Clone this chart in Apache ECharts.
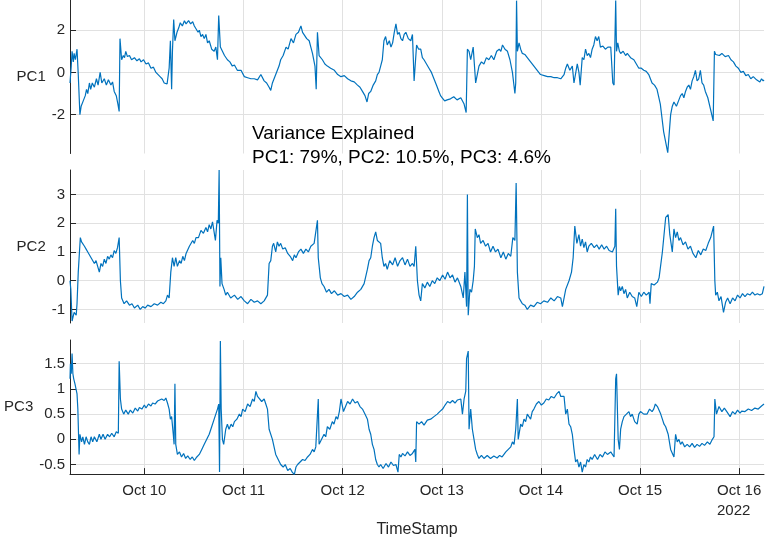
<!DOCTYPE html>
<html><head><meta charset="utf-8">
<script src="https://cdn.jsdelivr.net/npm/echarts@6/dist/echarts.min.js"></script>
<style>html,body{margin:0;padding:0;background:#fff}#c{width:774px;height:539px}</style>
</head><body><div id="c"></div>
<script>
// time = hours since Oct 9 2022 00:00
const xMin = 6, xMax = 174;
const dayTicks = [24, 48, 72, 96, 120, 144, 168];
const dayLabels = ['Oct 10', 'Oct 11', 'Oct 12', 'Oct 13', 'Oct 14', 'Oct 15', 'Oct 16'];
const yearLabel = '2022';
const xTitle = 'TimeStamp';
const annotationLines = ['Variance Explained', 'PC1: 79%, PC2: 10.5%, PC3: 4.6%'];

const pc1Ticks = [-2, 0, 2];
const pc1Range = [-3.84, 3.43];
const pc2Ticks = [-1, 0, 1, 2, 3];
const pc2Range = [-1.47, 3.85];
const pc3Ticks = [-0.5, 0, 0.5, 1, 1.5];
const pc3Range = [-0.69, 1.97];

// [hour, value]
const pc1Data = [[6.0,-0.5],[6.3,0.3],[6.5,1.0],[6.8,0.5],[7.0,0.9],[7.3,0.6],[7.7,1.1],[8.0,-0.1],[8.4,-2.0],[8.7,-1.6],[9.3,-1.3],[9.7,-1.1],[10.0,-0.8],[10.3,-1.0],[10.7,-0.5],[11.0,-0.8],[11.4,-0.5],[11.9,-0.7],[12.4,-0.3],[12.8,-0.6],[13.3,0.0],[13.7,-0.5],[14.3,-0.3],[14.8,-0.6],[15.3,-0.35],[15.9,-0.6],[16.3,-0.45],[16.7,-0.9],[17.2,-1.1],[17.6,-1.5],[17.9,-1.85],[18.1,1.6],[18.5,0.6],[18.9,0.8],[19.2,0.7],[19.5,1.0],[19.9,0.75],[20.4,0.8],[20.9,0.6],[21.6,0.7],[22.2,0.55],[22.8,0.65],[23.2,0.5],[23.8,0.6],[24.4,0.4],[25.0,0.45],[25.6,0.2],[26.2,0.25],[26.8,0.0],[27.2,0.0],[27.8,-0.2],[28.3,-0.3],[28.8,-0.5],[29.5,-0.55],[30.0,0.2],[30.3,1.5],[30.6,-0.8],[30.8,1.0],[31.1,2.5],[31.4,1.5],[31.9,1.9],[32.3,2.1],[32.7,2.35],[33.2,2.2],[33.7,2.45],[34.1,2.3],[34.7,2.45],[35.2,2.3],[35.7,2.4],[36.1,2.2],[36.5,2.25],[37.0,1.9],[37.3,2.0],[37.7,1.7],[38.1,1.8],[38.5,1.6],[38.9,1.8],[39.3,1.4],[39.7,1.5],[40.3,1.1],[40.9,1.0],[41.3,1.2],[41.7,0.6],[42.0,2.7],[42.4,1.2],[42.9,1.0],[43.4,0.8],[44.1,0.6],[44.7,0.5],[45.3,0.3],[45.8,0.35],[46.5,0.1],[47.4,0.1],[48.2,-0.2],[49.0,-0.25],[49.8,-0.3],[50.6,-0.3],[51.4,-0.35],[52.2,-0.1],[53.0,-0.4],[53.6,-0.5],[54.2,-0.7],[54.6,-0.85],[55.0,-0.5],[55.4,-0.3],[55.8,-0.1],[56.2,0.1],[56.6,0.3],[57.0,0.6],[57.6,0.8],[58.3,1.2],[58.8,1.1],[59.5,1.6],[60.1,1.4],[60.7,1.8],[61.3,1.9],[61.9,2.2],[62.3,1.9],[62.7,1.9],[63.3,1.6],[63.9,1.5],[64.3,1.2],[64.7,0.9],[65.3,0.3],[65.6,-0.8],[65.9,1.9],[66.3,0.8],[67.1,0.6],[67.7,0.4],[68.3,0.3],[69.1,0.2],[70.0,0.1],[70.8,-0.1],[71.6,-0.2],[72.4,-0.15],[73.2,-0.3],[74.0,-0.4],[74.8,-0.45],[75.6,-0.6],[76.2,-0.7],[76.8,-0.9],[77.4,-1.1],[77.9,-1.4],[78.3,-1.0],[78.8,-0.9],[79.4,-0.6],[80.0,-0.4],[80.4,-0.1],[80.8,0.0],[81.2,0.3],[81.6,0.6],[82.0,1.5],[82.4,1.7],[82.8,1.3],[83.3,1.5],[83.7,1.2],[84.1,1.4],[84.5,1.9],[84.9,2.3],[85.3,1.8],[85.7,1.9],[86.1,1.6],[86.5,1.5],[86.9,1.8],[87.3,1.9],[87.9,1.6],[88.5,1.5],[88.9,1.8],[89.3,-0.4],[89.9,1.3],[90.4,1.1],[90.9,1.1],[91.3,0.7],[91.7,0.6],[92.3,0.4],[92.9,0.2],[93.5,0.0],[94.1,-0.3],[94.7,-0.6],[95.3,-0.9],[95.7,-1.1],[96.1,-1.2],[96.7,-1.35],[97.3,-1.3],[98.1,-1.25],[98.9,-1.15],[99.7,-1.3],[100.6,-1.2],[101.4,-1.5],[101.9,-1.9],[102.2,1.1],[102.6,1.0],[103.0,0.6],[103.6,1.2],[104.2,-0.5],[105.0,0.3],[105.6,0.5],[106.2,0.4],[106.8,0.7],[107.4,0.6],[108.0,0.8],[108.6,0.6],[109.3,1.0],[109.9,1.1],[110.3,1.0],[110.7,1.3],[111.3,1.1],[111.9,1.0],[112.5,0.6],[113.1,0.0],[113.7,-1.0],[113.9,-0.5],[114.1,3.4],[114.3,1.0],[114.7,1.4],[115.1,1.1],[115.5,0.9],[116.1,0.85],[116.7,0.7],[117.5,0.5],[118.3,0.3],[119.1,0.1],[119.9,-0.1],[120.8,-0.15],[121.6,-0.2],[122.4,-0.2],[123.2,-0.25],[124.0,-0.25],[124.8,-0.3],[125.6,-0.1],[126.0,0.2],[126.4,0.4],[127.0,0.1],[127.6,0.3],[128.0,-0.5],[128.8,0.4],[129.2,0.0],[129.5,-0.6],[130.0,0.7],[130.4,0.6],[130.8,1.1],[131.2,0.8],[131.6,0.9],[132.0,0.7],[132.4,1.1],[132.8,1.3],[133.2,1.7],[133.6,1.5],[134.0,1.7],[134.4,1.2],[135.0,1.25],[135.6,1.1],[136.2,1.2],[136.9,1.2],[137.4,-0.5],[137.7,-0.6],[138.1,3.4],[138.3,1.0],[138.6,1.4],[139.0,1.0],[139.3,0.9],[139.9,1.0],[140.5,0.8],[140.9,0.9],[141.7,0.7],[142.5,0.6],[143.1,0.4],[143.7,0.2],[144.3,0.2],[144.9,0.1],[145.5,0.05],[146.1,-0.1],[146.9,-0.5],[147.5,-0.6],[148.1,-0.8],[148.9,-1.5],[149.7,-2.8],[150.7,-3.8],[151.4,-2.0],[151.8,-1.6],[152.2,-1.4],[152.8,-1.6],[153.4,-1.3],[153.8,-1.1],[154.2,-1.0],[154.6,-1.2],[155.0,-0.9],[155.4,-0.7],[155.8,-0.6],[156.2,-0.8],[156.6,-0.4],[157.0,-0.2],[157.4,0.1],[157.8,-0.4],[158.2,-0.3],[158.6,0.1],[159.0,-0.5],[159.4,-0.6],[159.8,-0.9],[160.4,-1.2],[161.0,-1.7],[161.7,-2.3],[162.0,1.0],[162.3,0.85],[162.6,0.9],[163.2,0.8],[163.8,0.9],[164.6,0.75],[165.4,0.8],[166.0,0.6],[166.6,0.5],[167.2,0.3],[167.8,0.2],[168.4,0.0],[169.0,0.05],[169.6,-0.15],[170.2,-0.1],[170.8,-0.3],[171.4,-0.2],[172.2,-0.35],[173.0,-0.45],[173.4,-0.3],[173.8,-0.4],[174.0,-0.35]];

const pc2Data = [[6.0,0.0],[6.2,-0.3],[6.5,-1.4],[7.0,-1.1],[7.5,-1.2],[7.7,-0.8],[8.0,0.3],[8.5,1.5],[8.8,1.35],[9.1,1.4],[9.5,1.2],[9.9,1.1],[10.3,1.0],[10.7,1.0],[11.1,0.8],[11.5,0.85],[11.9,0.6],[12.3,0.7],[12.7,0.5],[13.1,0.3],[13.5,0.6],[13.9,0.5],[14.3,0.75],[14.7,0.6],[15.1,0.85],[15.5,0.75],[15.9,0.9],[16.3,0.8],[16.7,1.05],[17.1,0.95],[17.5,1.15],[17.9,1.5],[18.2,0.0],[18.5,-0.6],[19.1,-0.8],[19.7,-0.7],[20.4,-0.85],[21.0,-0.8],[21.6,-0.95],[22.4,-0.85],[23.0,-1.0],[23.6,-0.9],[24.2,-0.95],[24.8,-0.85],[25.6,-0.9],[26.4,-0.8],[27.2,-0.85],[28.0,-0.75],[28.6,-0.8],[29.2,-0.7],[29.6,-0.5],[30.0,-0.6],[30.4,0.3],[30.8,0.8],[31.2,0.5],[31.6,0.8],[32.0,0.5],[32.5,0.7],[32.9,0.6],[33.3,0.85],[33.7,0.7],[34.1,0.95],[34.5,0.9],[34.9,1.2],[35.3,1.15],[35.7,1.4],[36.1,1.3],[36.5,1.5],[37.1,1.5],[37.7,1.75],[38.3,1.65],[38.9,1.85],[39.3,1.7],[39.7,1.95],[40.1,1.8],[40.5,2.05],[41.2,1.4],[41.6,2.1],[41.9,2.0],[42.1,3.85],[42.3,-0.2],[42.5,0.8],[42.8,-0.1],[43.3,-0.3],[43.7,-0.5],[44.1,-0.4],[44.9,-0.6],[45.8,-0.5],[46.6,-0.65],[47.4,-0.55],[48.2,-0.7],[49.0,-0.8],[49.8,-0.65],[50.6,-0.75],[51.4,-0.7],[52.2,-0.8],[53.0,-0.7],[53.8,-0.5],[54.2,0.6],[54.6,0.7],[55.0,1.2],[55.3,1.3],[55.8,1.0],[56.2,1.35],[56.6,1.2],[57.0,1.3],[57.5,1.1],[58.1,1.15],[58.7,0.95],[59.3,0.85],[59.9,0.7],[60.3,0.9],[60.7,0.8],[61.3,1.0],[61.9,1.1],[62.5,0.95],[63.1,1.1],[63.7,1.0],[64.3,1.2],[64.7,1.15],[65.1,1.3],[65.5,1.7],[65.9,2.1],[66.1,0.8],[66.6,0.1],[67.0,-0.1],[67.5,-0.2],[68.1,-0.4],[68.7,-0.3],[69.3,-0.45],[70.0,-0.35],[70.8,-0.5],[71.6,-0.45],[72.4,-0.55],[73.2,-0.5],[74.0,-0.65],[74.8,-0.55],[75.6,-0.4],[76.4,-0.3],[77.2,-0.1],[78.0,0.4],[78.4,0.7],[78.8,0.8],[79.2,1.2],[79.6,1.5],[80.0,1.7],[80.4,1.4],[80.8,1.35],[81.2,1.3],[81.6,0.8],[82.0,0.5],[82.4,0.6],[82.8,0.4],[83.4,0.7],[84.1,0.55],[84.7,0.8],[85.3,0.5],[85.9,0.7],[86.5,0.8],[87.1,0.55],[87.7,0.75],[88.3,0.5],[88.9,0.6],[89.3,0.5],[89.7,1.2],[90.1,0.0],[90.5,-0.5],[90.9,-0.7],[91.3,-0.1],[91.9,-0.25],[92.5,-0.05],[93.1,-0.2],[93.7,0.0],[94.3,-0.1],[94.9,0.1],[95.5,0.0],[96.2,0.2],[96.8,0.05],[97.4,0.3],[98.0,0.1],[98.6,0.2],[99.2,-0.05],[99.8,0.1],[100.6,-0.2],[101.2,-0.6],[101.6,0.3],[102.0,-0.9],[102.2,3.0],[102.4,-1.2],[102.8,-0.3],[103.2,-0.4],[103.6,0.0],[103.9,0.5],[104.1,1.8],[104.6,1.5],[105.0,1.6],[105.4,1.3],[106.0,1.4],[106.6,1.2],[107.2,1.3],[107.8,1.0],[108.4,1.2],[109.0,1.0],[109.6,1.1],[110.3,0.8],[110.9,1.0],[111.5,0.75],[112.1,0.95],[112.7,0.85],[113.2,1.5],[113.7,1.4],[114.0,3.4],[114.3,0.3],[114.7,-0.6],[115.1,-0.7],[115.5,-0.8],[116.1,-0.85],[116.7,-1.0],[117.5,-0.85],[118.3,-0.9],[119.1,-0.75],[119.9,-0.8],[120.7,-0.7],[121.6,-0.75],[122.4,-0.6],[123.2,-0.7],[124.0,-0.55],[124.8,-0.6],[125.2,-0.9],[126.0,-0.3],[126.8,0.0],[127.4,0.3],[127.8,0.8],[128.2,1.9],[128.7,1.3],[129.2,1.6],[129.6,1.2],[130.0,1.45],[130.4,1.15],[130.8,1.35],[131.2,1.0],[131.6,1.2],[132.2,1.3],[132.9,1.15],[133.5,1.25],[134.1,1.1],[134.7,1.25],[135.3,1.1],[135.9,1.2],[136.5,1.05],[137.3,1.0],[137.9,1.2],[138.1,2.5],[138.3,0.5],[138.7,-0.5],[139.0,-0.2],[139.3,-0.35],[139.7,-0.2],[140.1,-0.45],[140.5,-0.3],[140.9,-0.6],[141.5,-0.4],[142.1,-0.55],[142.7,-0.6],[143.2,-0.9],[143.7,-0.4],[144.3,-0.55],[144.9,-0.4],[145.5,-0.5],[146.2,-0.4],[146.4,-0.8],[146.7,-0.1],[147.4,-0.15],[148.2,-0.05],[148.6,0.1],[149.4,1.0],[150.2,2.2],[150.8,2.3],[151.2,1.6],[151.8,1.0],[152.2,1.8],[152.6,1.5],[153.0,1.7],[153.4,1.4],[153.8,1.5],[154.4,1.25],[155.0,1.35],[155.6,1.1],[156.2,1.2],[156.8,0.95],[157.5,0.8],[158.1,1.05],[158.7,0.9],[159.3,1.1],[159.9,1.05],[160.5,1.3],[161.1,1.5],[161.8,1.9],[162.1,0.0],[162.3,-0.5],[162.7,-0.4],[163.1,-0.7],[163.6,-0.55],[164.2,-1.1],[164.7,-0.75],[165.2,-0.6],[165.8,-0.8],[166.4,-0.6],[167.0,-0.7],[167.6,-0.5],[168.2,-0.6],[168.8,-0.45],[169.4,-0.55],[170.0,-0.45],[170.6,-0.5],[171.2,-0.4],[171.8,-0.5],[172.4,-0.45],[173.0,-0.5],[173.6,-0.45],[174.0,-0.2]];

const pc3Data = [[6.0,1.2],[6.1,1.5],[6.3,1.3],[6.5,1.7],[6.7,1.3],[6.9,1.2],[7.2,1.1],[7.7,0.9],[7.9,0.6],[8.2,-0.3],[8.4,0.1],[8.8,-0.05],[9.1,0.05],[9.5,-0.1],[9.9,0.05],[10.3,-0.05],[10.7,-0.1],[11.1,0.05],[11.5,-0.05],[11.9,0.05],[12.5,-0.05],[13.1,0.1],[13.5,0.0],[14.0,0.1],[14.5,0.0],[15.1,0.1],[15.6,0.05],[16.1,0.12],[16.7,0.05],[17.2,0.15],[17.7,0.12],[17.9,1.55],[18.2,0.8],[18.5,0.6],[19.0,0.5],[19.5,0.58],[20.1,0.5],[20.6,0.58],[21.2,0.52],[21.8,0.62],[22.4,0.56],[22.8,0.63],[23.4,0.6],[24.0,0.68],[24.4,0.62],[25.0,0.7],[25.6,0.66],[26.0,0.72],[26.6,0.7],[27.2,0.76],[27.6,0.73],[28.2,0.8],[28.8,0.77],[29.2,0.82],[29.6,0.72],[30.0,0.6],[30.3,0.4],[30.6,0.45],[31.0,0.1],[31.2,-0.1],[31.4,1.1],[31.6,-0.1],[32.0,-0.3],[32.5,-0.25],[33.0,-0.35],[33.5,-0.28],[34.0,-0.38],[34.5,-0.33],[35.1,-0.4],[35.6,-0.35],[36.1,-0.42],[36.7,-0.35],[37.3,-0.3],[37.9,-0.2],[38.5,-0.1],[39.1,0.0],[39.7,0.1],[40.3,0.25],[40.9,0.4],[41.3,0.5],[41.7,0.6],[42.0,0.7],[42.2,-0.65],[42.4,1.95],[42.6,0.6],[42.9,0.0],[43.2,-0.1],[43.7,0.2],[44.1,0.3],[44.5,0.2],[45.0,0.3],[45.4,0.25],[45.8,0.35],[46.4,0.4],[47.0,0.5],[47.4,0.45],[47.8,0.6],[48.4,0.55],[49.0,0.7],[49.6,0.65],[50.2,0.8],[50.6,0.75],[51.0,0.95],[51.4,0.85],[51.8,0.85],[52.4,0.75],[53.0,0.8],[53.4,0.7],[53.8,0.6],[54.2,0.2],[55.0,0.0],[55.4,-0.15],[55.8,-0.3],[56.4,-0.4],[57.0,-0.5],[57.6,-0.55],[58.1,-0.5],[58.7,-0.62],[59.3,-0.58],[59.8,-0.65],[60.3,-0.7],[60.7,-0.55],[61.1,-0.5],[61.7,-0.45],[62.3,-0.4],[62.9,-0.42],[63.5,-0.35],[64.1,-0.3],[64.7,-0.2],[65.1,-0.25],[65.5,-0.15],[66.1,0.8],[66.3,-0.1],[66.9,0.0],[67.5,0.1],[67.9,0.05],[68.3,0.25],[68.9,0.2],[69.5,0.35],[69.9,0.3],[70.4,0.45],[70.8,0.4],[71.2,0.55],[71.6,0.8],[72.2,0.55],[72.7,0.65],[73.2,0.75],[73.8,0.7],[74.4,0.8],[75.0,0.72],[75.6,0.75],[76.2,0.65],[76.8,0.6],[77.4,0.5],[78.0,0.4],[78.4,0.2],[78.8,0.1],[79.2,-0.1],[79.6,-0.2],[80.0,-0.4],[80.4,-0.5],[80.8,-0.55],[81.2,-0.5],[81.8,-0.58],[82.5,-0.48],[83.1,-0.55],[83.7,-0.45],[84.3,-0.52],[84.9,-0.5],[85.4,-0.65],[85.7,-0.3],[86.1,-0.35],[86.5,-0.28],[87.1,-0.33],[87.7,-0.25],[88.3,-0.32],[88.9,-0.28],[89.5,-0.2],[89.7,-0.45],[89.9,0.35],[90.5,0.3],[91.1,0.35],[91.7,0.28],[92.5,0.38],[93.3,0.4],[94.1,0.45],[94.9,0.5],[95.5,0.55],[96.2,0.6],[96.8,0.68],[97.4,0.75],[98.0,0.72],[98.6,0.77],[99.2,0.72],[99.8,0.78],[100.6,0.8],[101.0,0.5],[101.4,0.8],[101.8,0.95],[102.0,1.6],[102.4,1.75],[102.6,0.2],[103.0,0.6],[103.4,0.2],[103.8,0.0],[104.2,-0.2],[104.6,-0.3],[105.0,-0.38],[105.6,-0.32],[106.2,-0.38],[107.0,-0.32],[107.8,-0.38],[108.6,-0.33],[109.4,-0.37],[110.0,-0.32],[110.6,-0.35],[111.5,-0.25],[112.1,-0.2],[112.7,-0.15],[113.1,-0.05],[113.5,-0.1],[113.9,0.2],[114.3,0.8],[114.5,0.0],[115.1,0.3],[115.5,0.25],[115.9,0.4],[116.3,0.35],[116.7,0.5],[117.1,0.45],[117.5,0.4],[117.9,0.55],[118.3,0.6],[118.9,0.7],[119.5,0.75],[120.1,0.68],[120.7,0.72],[121.3,0.8],[121.9,0.78],[122.5,0.85],[123.2,0.82],[123.8,0.9],[124.4,0.95],[124.8,0.85],[125.2,0.88],[125.6,0.85],[126.0,0.5],[126.4,0.6],[126.8,0.3],[127.2,0.25],[127.6,0.1],[128.0,-0.2],[128.4,-0.45],[128.8,-0.4],[129.2,-0.55],[129.6,-0.45],[130.0,-0.65],[130.4,-0.5],[130.8,-0.55],[131.2,-0.4],[131.6,-0.45],[132.0,-0.35],[132.4,-0.4],[133.0,-0.3],[133.7,-0.4],[134.3,-0.3],[134.9,-0.35],[135.5,-0.25],[136.1,-0.3],[136.9,-0.25],[137.7,-0.35],[138.1,1.2],[138.3,1.3],[138.7,0.0],[139.0,-0.2],[139.3,0.2],[139.7,0.35],[140.1,0.45],[140.7,0.5],[141.3,0.55],[141.7,0.45],[142.1,0.5],[142.7,0.35],[143.3,0.3],[143.7,0.5],[144.1,0.55],[144.9,0.5],[145.7,0.5],[146.3,0.6],[146.9,0.55],[147.3,0.6],[147.7,0.7],[148.2,0.65],[148.6,0.65],[149.0,0.5],[149.4,0.4],[149.8,0.3],[150.2,0.25],[150.8,0.1],[151.4,-0.2],[152.2,-0.35],[152.6,0.1],[153.0,-0.05],[153.4,0.0],[153.8,-0.1],[154.2,-0.05],[154.8,-0.15],[155.4,-0.1],[156.0,-0.15],[156.6,-0.08],[157.2,-0.16],[157.8,-0.1],[158.4,-0.14],[159.0,-0.08],[159.6,-0.12],[160.3,-0.05],[160.9,-0.1],[161.5,0.0],[161.9,0.05],[162.1,0.8],[162.5,0.5],[163.1,0.65],[163.8,0.55],[164.4,0.62],[165.0,0.55],[165.4,0.5],[165.8,0.45],[166.4,0.55],[167.0,0.5],[167.6,0.58],[168.2,0.52],[168.6,0.56],[169.4,0.55],[170.2,0.6],[171.0,0.57],[171.8,0.62],[172.6,0.6],[173.4,0.66],[174.0,0.7]];

const FONT = 'Liberation Sans, Arial, Helvetica, sans-serif';
const TXT = '#262626';
const GRIDC = '#e1e1e1';
const LINEC = '#0072BD';

const grids = [
  {left: 70, right: 10, top: -5, height: 158.5},
  {left: 70, right: 10, top: 170, height: 153},
  {left: 70, right: 10, top: 340, height: 154}
];

function xAxisFor(i, bottom) {
  return {
    type: 'value', gridIndex: i, min: xMin, max: xMax,
    axisLine: {show: bottom, onZero: false, lineStyle: {color: TXT, width: 1}},
    axisTick: {show: bottom, inside: true, length: 6, customValues: dayTicks, lineStyle: {color: TXT}},
    axisLabel: {
      show: bottom, customValues: dayTicks, margin: 7,
      fontFamily: FONT, fontSize: 15, color: TXT, lineHeight: 20,
      formatter: function (v) {
        const k = dayTicks.indexOf(Math.round(v));
        if (k < 0) return '';
        if (k === dayTicks.length - 1) return dayLabels[k] + '\n{y|' + yearLabel + '}';
        return dayLabels[k];
      },
      rich: {y: {fontFamily: FONT, fontSize: 15, color: TXT, padding: [0, 11, 0, 0], lineHeight: 20}}
    },
    splitLine: {show: true, lineStyle: {color: GRIDC, width: 1}},
    name: bottom ? xTitle : '', nameLocation: 'middle', nameGap: 27,
    nameTextStyle: {fontFamily: FONT, fontSize: 16, color: TXT}
  };
}

function yAxisFor(i, name, range, ticks, gap) {
  return {
    type: 'value', gridIndex: i, min: range[0], max: range[1],
    axisLine: {show: true, onZero: false, lineStyle: {color: TXT, width: 1}},
    axisTick: {show: true, inside: true, length: 6, customValues: ticks, lineStyle: {color: TXT}},
    axisLabel: {customValues: ticks, margin: 5, fontFamily: FONT, fontSize: 15, color: TXT,
      formatter: v => String(Math.round(v * 100) / 100)},
    splitLine: {show: true, lineStyle: {color: GRIDC, width: 1}},
    name: name, nameLocation: 'middle', nameRotate: 0, nameGap: gap,
    nameTextStyle: {fontFamily: FONT, fontSize: 15, color: TXT, align: 'right'}
  };
}

const chart = echarts.init(document.getElementById('c'), null, {renderer: 'canvas'});
chart.setOption({
  animation: false,
  backgroundColor: '#fff',
  grid: grids,
  xAxis: [xAxisFor(0, false), xAxisFor(1, false), xAxisFor(2, true)],
  yAxis: [
    yAxisFor(0, 'PC1', pc1Range, pc1Ticks, 22),
    yAxisFor(1, 'PC2', pc2Range, pc2Ticks, 21),
    yAxisFor(2, 'PC3', pc3Range, pc3Ticks, 34)
  ],
  series: [
    {type: 'line', xAxisIndex: 0, yAxisIndex: 0, data: pc1Data},
    {type: 'line', xAxisIndex: 1, yAxisIndex: 1, data: pc2Data},
    {type: 'line', xAxisIndex: 2, yAxisIndex: 2, data: pc3Data}
  ].map(s => Object.assign(s, {showSymbol: false, symbol: 'none', clip: true,
    lineStyle: {color: LINEC, width: 1.2}, itemStyle: {color: LINEC}})),
  graphic: [{
    type: 'text', left: 252, top: 122, z: 100,
    style: {text: annotationLines.join('\n'), font: '19px ' + FONT, lineHeight: 24, fill: '#000'}
  }]
});
</script>
</body></html>
